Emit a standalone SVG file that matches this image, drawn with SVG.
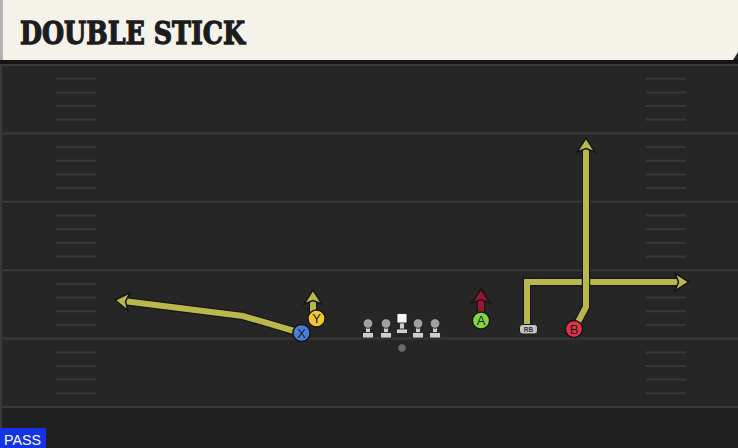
<svg xmlns="http://www.w3.org/2000/svg" width="738" height="448" viewBox="0 0 738 448">
<defs>
<style>
.yl{stroke:#3a3a3a;stroke-width:2}
.hs{stroke:#383838;stroke-width:2}
.under{fill:none;stroke:#161616;stroke-width:8.5;stroke-linejoin:miter}
.rt{fill:none;stroke:#b9b84b;stroke-width:6;stroke-linejoin:miter}
.rtr{fill:none;stroke:#9c1530;stroke-width:6}
.pl{stroke:#151515;stroke-width:1.5}
.lbl{font-family:"Liberation Sans",Arial,sans-serif;font-size:13px;fill:#1a1a1a;text-anchor:middle}
.ol{fill:#cfcfcf;stroke:#1a1a1a;stroke-width:0.8}
.head{fill:#a0a0a0;stroke:#1a1a1a;stroke-width:0.8}
</style>
<marker id="ah" markerUnits="userSpaceOnUse" viewBox="-2 -2 19 22" markerWidth="19" markerHeight="22" refX="3.5" refY="9" orient="auto" overflow="visible">
<path d="M0,0 L14,9 L0,18 L3.5,9 z" fill="#b9b84b" stroke="#161616" stroke-width="1.5" stroke-linejoin="miter"/>
</marker>
<marker id="ahr" markerUnits="userSpaceOnUse" viewBox="-2 -2 19 22" markerWidth="19" markerHeight="22" refX="3.5" refY="9" orient="auto" overflow="visible">
<path d="M0,0 L14,9 L0,18 L3.5,9 z" fill="#9c1530" stroke="#161616" stroke-width="1.5"/>
</marker>
</defs>

<!-- field -->
<rect x="0" y="0" width="738" height="448" fill="#262626"/>
<rect x="0" y="407" width="738" height="41" fill="#202020"/>
<rect x="0" y="60" width="2" height="388" fill="#3a3a3a"/>

<g id="yardlines">
<line class="yl" x1="0" y1="65" x2="738" y2="65"/>
<line class="yl" x1="0" y1="133.4" x2="738" y2="133.4"/>
<line class="yl" x1="0" y1="201.8" x2="738" y2="201.8"/>
<line class="yl" x1="0" y1="270.2" x2="738" y2="270.2"/>
<line class="yl" x1="0" y1="338.6" x2="738" y2="338.6"/>
<line class="yl" x1="0" y1="407" x2="738" y2="407"/>
</g>
<g id="hashes">
<path class="hs" d="M56,78.7H96M56,92.4H96M56,106H96M56,119.7H96M56,147.1H96M56,160.8H96M56,174.4H96M56,188.1H96M56,215.5H96M56,229.2H96M56,242.8H96M56,256.5H96M56,283.9H96M56,297.6H96M56,311.2H96M56,324.9H96M56,352.3H96M56,366H96M56,379.6H96M56,393.3H96"/>
<path class="hs" d="M646,78.7H686M646,92.4H686M646,106H686M646,119.7H686M646,147.1H686M646,160.8H686M646,174.4H686M646,188.1H686M646,215.5H686M646,229.2H686M646,242.8H686M646,256.5H686M646,283.9H686M646,297.6H686M646,311.2H686M646,324.9H686M646,352.3H686M646,366H686M646,379.6H686M646,393.3H686"/>
</g>

<!-- header -->
<g id="header">
<rect x="0" y="59" width="738" height="5" fill="#151515"/>
<polygon points="0,0 738,0 738,52 733,60 0,60" fill="#f5f2ea"/>
<rect x="0" y="0" width="3" height="60" fill="#b3b3b3"/>
<text x="20" y="44" font-family="'DejaVu Serif',serif" font-weight="bold" font-size="31" fill="#1c1c1c" stroke="#1c1c1c" stroke-width="1.3" textLength="225" lengthAdjust="spacingAndGlyphs">DOUBLE STICK</text>
</g>

<!-- connectors -->
<g id="connectors">
<path class="under" d="M301,333 L243,316 L125.5,301.3"/>
<path class="rt" d="M301,333 L243,316 L125.5,301.3" marker-end="url(#ah)"/>
<path class="under" d="M313,312 L313,300.5"/>
<path class="rt" d="M313,312 L313,300.5" marker-end="url(#ah)"/>
<path class="under" d="M481,313 L481,299.5"/>
<path class="rtr" d="M481,313 L481,299.5" marker-end="url(#ahr)"/>
<path class="under" d="M527,326 L527,282 L678.5,282"/>
<path class="rt" d="M527,326 L527,282 L678.5,282" marker-end="url(#ah)"/>
<path class="under" d="M578,322 L586,307 L586,148.5"/>
<path class="rt" d="M578,322 L586,307 L586,148.5" marker-end="url(#ah)"/>
</g>

<!-- offensive line -->
<g id="lt"><rect class="ol" x="365.5" y="325" width="5" height="8"/><circle class="head" cx="368" cy="323.5" r="4.8"/><rect class="ol" x="362.5" y="332.5" width="11" height="5.5"/></g>
<g id="lg"><rect class="ol" x="383.5" y="325" width="5" height="8"/><circle class="head" cx="386" cy="323.5" r="4.8"/><rect class="ol" x="380.5" y="332.5" width="11" height="5.5"/></g>
<g id="c"><rect class="ol" x="399.5" y="322" width="5" height="7.5"/><rect x="397" y="313.5" width="10" height="9.5" fill="#f4f4f4" stroke="#1a1a1a" stroke-width="0.8"/><rect class="ol" x="396.5" y="329" width="11" height="4.5"/></g>
<g id="rg"><rect class="ol" x="415.5" y="325" width="5" height="8"/><circle class="head" cx="418" cy="323.5" r="4.8"/><rect class="ol" x="412.5" y="332.5" width="11" height="5.5"/></g>
<g id="rt"><rect class="ol" x="432.5" y="325" width="5" height="8"/><circle class="head" cx="435" cy="323.5" r="4.8"/><rect class="ol" x="429.5" y="332.5" width="11" height="5.5"/></g>
<g id="ball"><circle cx="402" cy="348" r="4.3" fill="#6b6b6b" stroke="#1a1a1a" stroke-width="0.8"/></g>

<!-- skill players -->
<g id="X"><circle class="pl" cx="301.5" cy="333" r="8.6" fill="#4a7fd9"/><text class="lbl" x="301.5" y="337.7">X</text></g>
<g id="Y"><circle class="pl" cx="316.5" cy="318.5" r="8.6" fill="#f2c72f"/><text class="lbl" x="316.5" y="323.2">Y</text></g>
<g id="A"><circle class="pl" cx="481" cy="320.5" r="8.6" fill="#7fd842"/><text class="lbl" x="481" y="325.2">A</text></g>
<g id="RB"><rect x="519.5" y="324.5" width="18" height="9.5" rx="3" fill="#c4c4c4" stroke="#151515" stroke-width="1"/><text x="528.5" y="331.8" font-family="'Liberation Sans',Arial,sans-serif" font-size="6.5" font-weight="bold" fill="#333" text-anchor="middle">RB</text></g>
<g id="B"><circle class="pl" cx="574" cy="329" r="8.6" fill="#e3334a"/><text class="lbl" x="574" y="333.7">B</text></g>

<!-- pass tag -->
<g id="pass"><rect x="0" y="428" width="46" height="20" fill="#1432e6"/><text x="4" y="444.5" font-family="'Liberation Sans',Arial,sans-serif" font-size="15" fill="#ffffff" textLength="37" lengthAdjust="spacingAndGlyphs">PASS</text></g>
</svg>
